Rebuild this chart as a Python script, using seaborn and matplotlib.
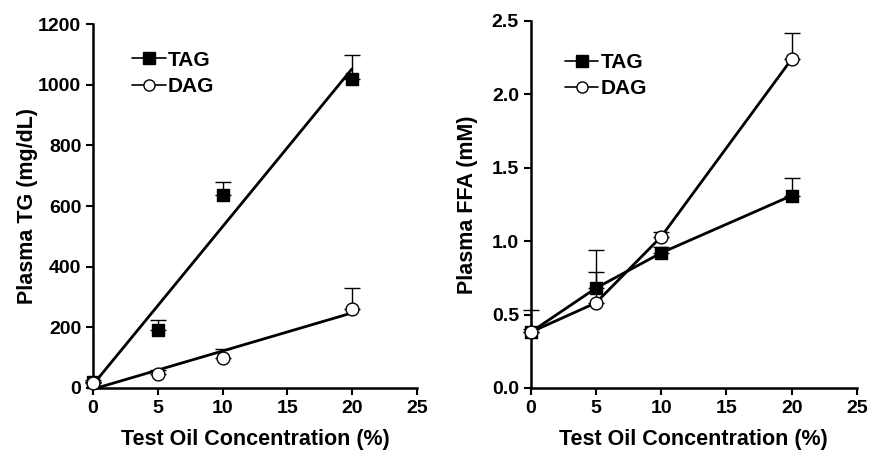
import numpy as np
import pandas as pd
import matplotlib
matplotlib.use("Agg")
import matplotlib.pyplot as plt
from matplotlib.lines import Line2D
import seaborn as sns

# --- data ---
conc = [0, 5, 10, 20]

tg_tag = [20, 190, 637, 1020]
tg_tag_err = [5, 35, 42, 77]
tg_dag = [18, 45, 100, 262]
tg_dag_err = [3, 15, 30, 68]

ffa_tag = [0.38, 0.68, 0.92, 1.31]
ffa_tag_err = [0.15, 0.26, 0.04, 0.12]
ffa_dag = [0.38, 0.58, 1.03, 2.24]
ffa_dag_err = [0.02, 0.21, 0.03, 0.18]

sns.set_theme(style="ticks")
plt.rcParams["font.family"] = ["Liberation Sans", "DejaVu Sans"]
plt.rcParams["font.weight"] = "bold"
for k in ("text.color", "axes.labelcolor", "xtick.color", "ytick.color", "axes.edgecolor"):
    plt.rcParams[k] = "black"

fig = plt.figure(figsize=(8.7, 4.53), dpi=100)
ax1 = fig.add_axes([0.107, 0.1435, 0.372, 0.8035])
ax2 = fig.add_axes([0.610, 0.1435, 0.375, 0.8105])

sq = dict(marker="s", s=80, color="black", edgecolor="black", linewidth=1, zorder=5)
circ = dict(marker="o", s=85, color="white", edgecolor="black", linewidth=1, zorder=6)


def upper_err(ax, x, y, e):
    ax.errorbar(x, y, yerr=[np.zeros(len(e)), e], fmt="none", ecolor="black",
                elinewidth=1, capsize=6, capthick=1, zorder=3)


# left panel: points with linear fits
df_tg = pd.DataFrame({"conc": conc, "TAG": tg_tag, "DAG": tg_dag})
upper_err(ax1, conc, tg_tag, tg_tag_err)
upper_err(ax1, conc, tg_dag, tg_dag_err)
sns.regplot(data=df_tg, x="conc", y="TAG", ax=ax1, scatter=False, ci=None,
            truncate=True, line_kws=dict(color="black", lw=2))
sns.regplot(data=df_tg, x="conc", y="DAG", ax=ax1, scatter=False, ci=None,
            truncate=True, line_kws=dict(color="black", lw=2))
sns.scatterplot(data=df_tg, x="conc", y="TAG", ax=ax1, **sq)
sns.scatterplot(data=df_tg, x="conc", y="DAG", ax=ax1, **circ)

# right panel: points joined by lines
df_ffa = pd.DataFrame({"conc": conc, "TAG": ffa_tag, "DAG": ffa_dag})
upper_err(ax2, conc, ffa_tag, ffa_tag_err)
upper_err(ax2, conc, ffa_dag, ffa_dag_err)
sns.lineplot(data=df_ffa, x="conc", y="TAG", ax=ax2, color="black", lw=2)
sns.lineplot(data=df_ffa, x="conc", y="DAG", ax=ax2, color="black", lw=2)
sns.scatterplot(data=df_ffa, x="conc", y="TAG", ax=ax2, **sq)
sns.scatterplot(data=df_ffa, x="conc", y="DAG", ax=ax2, **circ)

ax1.set_ylim(0, 1200)
ax1.set_yticks(range(0, 1201, 200))
ax1.set_ylabel("Plasma TG (mg/dL)", fontsize=15.5, fontweight="bold")
ax1.yaxis.set_label_coords(-0.17, 0.5)
ax2.set_ylim(0, 2.5)
ax2.set_yticks(np.arange(0, 2.51, 0.5))
ax2.set_yticklabels([f"{v:.1f}" for v in np.arange(0, 2.51, 0.5)])
ax2.set_ylabel("Plasma FFA (mM)", fontsize=15.5, fontweight="bold")
ax2.yaxis.set_label_coords(-0.162, 0.5)

handles = [
    Line2D([], [], color="black", lw=1.2, marker="s", markersize=8,
           markerfacecolor="black", markeredgecolor="black"),
    Line2D([], [], color="black", lw=1.2, marker="o", markersize=8,
           markerfacecolor="white", markeredgecolor="black"),
]
leg_pos = {ax1: (0.095, 0.95), ax2: (0.08, 0.935)}

for ax in (ax1, ax2):
    ax.set_xlim(0, 25)
    ax.set_xticks(range(0, 26, 5))
    ax.set_xlabel("Test Oil Concentration (%)", fontsize=15.5, fontweight="bold", labelpad=9)
    ax.tick_params(labelsize=14, width=1.5, length=5, direction="out")
    for lab in ax.get_xticklabels() + ax.get_yticklabels():
        lab.set_fontweight("bold")
    for s in ("left", "bottom"):
        ax.spines[s].set_linewidth(1.8)
    sns.despine(ax=ax)
    ax.legend(handles, ["TAG", "DAG"], loc="upper left", bbox_to_anchor=leg_pos[ax],
              frameon=False, handlelength=1.6, handletextpad=0.1, borderaxespad=0,
              labelspacing=0.35, prop=dict(size=15, weight="bold"))

for ax in (ax1, ax2):
    for c in ax.collections + ax.lines:
        c.set_clip_on(False)

fig.savefig("out.png", dpi=100)
